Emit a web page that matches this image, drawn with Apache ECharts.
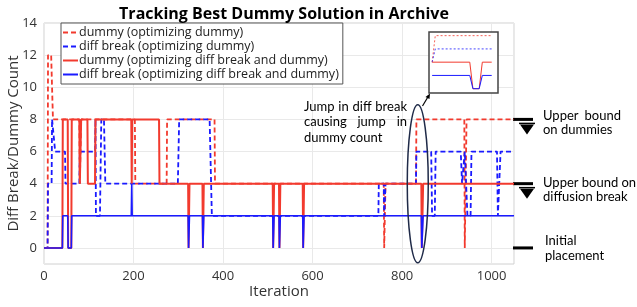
<!DOCTYPE html>
<html>
<head>
<meta charset="utf-8">
<script src="https://cdn.jsdelivr.net/npm/echarts@6/dist/echarts.min.js"></script>
<style>
html, body {margin: 0; padding: 0; background: #fff;}
#main {width: 637px; height: 307px;}
</style>
</head>
<body>
<div id="main"></div>
<script>
// legend names
var seriesNames = [
    'dummy (optimizing dummy)',
    'diff break (optimizing dummy)',
    'dummy (optimizing diff break and dummy)',
    'diff break (optimizing diff break and dummy)'
];
// [iteration, value]
var dummyOptDummy = [[0,0],[8,0],[9,12],[16,12],[18,10],[20,8],[79,8],[80,4],[82,4],[83,8],[203,8],[204,4],[274,4],[275,8],
    [381,8],[382,4],[759,4],[760,0],[762,0],[763,4],[831,4],[832,8],[939,8],[940,0],[943,0],[944,8],[1050,8]];
var diffOptDummy = [[0,0],[8,0],[9,4],[17,4],[18,8],[21,8],[25,6],[47,6],[48,4],[79,4],[80,6],[114,6],[115,8],[116,2],
    [125,2],[128,8],[134,8],[137,4],[299,4],[302,8],[370,8],[375,2],[747,2],[748,4],[759,4],[760,2],[762,2],[763,4],
    [831,4],[832,6],[865,6],[867,2],[873,2],[875,6],[931,6],[934,4],[938,4],[940,6],[944,6],[946,2],[953,2],[955,6],
    [1012,6],[1014,2],[1018,2],[1020,6],[1050,6]];
var dummyOptBoth = [[0,0],[41,0],[42,8],[53,8],[54,0],[61,0],[62,8],[79,8],[80,4],[82,4],[83,8],[97,8],[98,4],[114,4],
    [115,8],[195,8],[196,4],[197,8],[257,8],[258,4],[322,4],[323,0],[324,0],[325,4],[354,4],[355,0],[356,0],[357,4],
    [511,4],[512,0],[513,0],[514,4],[525,4],[526,0],[527,0],[528,4],[578,4],[579,0],[580,0],[581,4],
    [843,4],[844,0],[846,0],[847,4],[1050,4]];
var diffOptBoth = [[0,0],[41,0],[42,2],[53,2],[54,0],[61,0],[62,2],[195,2],[196,4],[197,2],[322,2],[323,0],[324,0],
    [325,2],[354,2],[355,0],[356,0],[357,2],[511,2],[512,0],[513,0],[514,2],[525,2],[526,0],[527,0],[528,2],
    [578,2],[579,0],[580,0],[581,2],[843,2],[844,0],[846,0],[847,2],[1050,2]];
var xTicks = [0, 200, 400, 600, 800, 1000];
var insetRange = [831, 850];

var red = '#f23a2e';
var blue = '#1a1aff';
var allData = [dummyOptDummy, diffOptDummy, dummyOptBoth, diffOptBoth];
var colors = [red, blue, red, blue];
var dashed = [true, true, false, false];
var widths = [1.8, 1.8, 2, 1.6];

// piece of a series inside [a, b], ends interpolated
var clip = function (arr, a, b) {
    var valAt = function (x) {
        for (var i = 0; i < arr.length - 1; i++) {
            var p = arr[i], q = arr[i + 1];
            if (x >= p[0] && x <= q[0]) {
                if (q[0] === p[0]) return p[1];
                return p[1] + (q[1] - p[1]) * (x - p[0]) / (q[0] - p[0]);
            }
        }
        return arr[arr.length - 1][1];
    };
    var out = [[a, valAt(a)]];
    arr.forEach(function (p) {
        if (p[0] > a && p[0] < b) out.push(p);
    });
    out.push([b, valAt(b)]);
    return out;
};

var series = [];
allData.forEach(function (d, i) {
    series.push({
        name: seriesNames[i],
        type: 'line',
        data: d,
        symbol: 'none',
        animation: false,
        lineStyle: {color: colors[i], width: widths[i], type: dashed[i] ? [5, 3] : 'solid'},
        itemStyle: {color: colors[i]},
        z: 2 + i
    });
});
allData.forEach(function (d, i) {
    series.push({
        name: 'inset' + i,
        type: 'line',
        xAxisIndex: 1,
        yAxisIndex: 1,
        data: clip(d, insetRange[0], insetRange[1]),
        symbol: 'none',
        animation: false,
        silent: true,
        lineStyle: {color: colors[i], width: 1, opacity: dashed[i] ? 0.8 : 1, type: dashed[i] ? [2, 2] : 'solid'},
        z: 20 + i
    });
});

var chart = echarts.init(document.getElementById('main'));
chart.setOption({
    backgroundColor: '#fff',
    animation: false,
    title: {
        text: 'Tracking Best Dummy Solution in Archive',
        left: 279,
        textAlign: 'center',
        top: 1,
        textStyle: {fontFamily: 'Open Sans', fontWeight: 'bold', fontSize: 16, color: '#000'}
    },
    legend: {
        data: seriesNames,
        orient: 'vertical',
        left: 61,
        top: 23,
        padding: [3, 4, 3, 1],
        itemGap: 1,
        itemWidth: 15,
        itemHeight: 10,
        backgroundColor: '#fff',
        borderColor: '#555',
        borderWidth: 1,
        borderRadius: 0,
        selectedMode: false,
        itemStyle: {opacity: 0},
        textStyle: {fontFamily: 'Open Sans', fontSize: 12.5, color: '#222', padding: [0, 0, 0, -4]}
    },
    grid: [
        {left: 44, right: 123, top: 23, bottom: 43, outerBoundsMode: 'none', containLabel: false,
            show: true, borderColor: '#d0d0d0', borderWidth: 1},
        {left: 429, top: 32, width: 69, height: 61, outerBoundsMode: 'none', containLabel: false,
            show: true, backgroundColor: '#fff', borderColor: '#444', borderWidth: 1.5, z: 10}
    ],
    xAxis: [
        {
            type: 'value', gridIndex: 0, min: 0, max: 1050, interval: 200,
            name: 'Iteration', nameLocation: 'middle', nameGap: 20, nameMoveOverlap: false,
            nameTextStyle: {fontFamily: 'Open Sans', fontSize: 15, color: '#333'},
            axisLine: {show: false},
            axisTick: {show: false},
            axisLabel: {
                fontFamily: 'Open Sans', fontSize: 13, color: '#333', margin: 6,
                formatter: function (v) { return xTicks.indexOf(v) >= 0 ? v : ''; }
            },
            splitLine: {lineStyle: {color: '#e9e9e9', width: 1}}
        },
        {type: 'value', gridIndex: 1, min: 830, max: 852, show: false, splitLine: {show: false}}
    ],
    yAxis: [
        {
            type: 'value', gridIndex: 0, min: -1, max: 14, interval: 1,
            name: 'Diff Break/Dummy Count', nameLocation: 'middle', nameGap: 23, nameMoveOverlap: false,
            nameTextStyle: {fontFamily: 'Open Sans', fontSize: 15, color: '#333'},
            axisLine: {show: false},
            axisTick: {show: false},
            axisLabel: {
                fontFamily: 'Open Sans', fontSize: 13, color: '#333', margin: 7,
                formatter: function (v) { return (v >= 0 && v % 2 === 0) ? v : ''; }
            },
            splitLine: {lineStyle: {color: ['rgba(0,0,0,0)', '#e9e9e9'], width: 1}}
        },
        {type: 'value', gridIndex: 1, min: -0.65, max: 8.55, show: false, splitLine: {show: false}}
    ],
    series: series
});

// annotations placed from data coordinates
var P = function (x, y) { return chart.convertToPixel({gridIndex: 0}, [x, y]); };
var gRight = P(1050, 0)[0];
var annoFont = '13px Lato';
var ctx = document.createElement('canvas').getContext('2d');
ctx.font = annoFont;

var textEl = function (str, x, y) {
    return {type: 'text', x: x, y: y, style: {text: str, font: annoFont, fill: '#000', verticalAlign: 'middle'}};
};
// spread words across [x0, x1]
var justify = function (str, x0, x1, y) {
    var words = str.split(' ');
    var total = 0;
    words.forEach(function (w) { total += ctx.measureText(w).width; });
    var gap = words.length > 1 ? (x1 - x0 - total) / (words.length - 1) : 0;
    var x = x0, out = [];
    words.forEach(function (w) {
        out.push(textEl(w, x, y));
        x += ctx.measureText(w).width + gap;
    });
    return out;
};

var els = [];
var bound = function (v, arrow) {
    var y = P(0, v)[1];
    els.push({type: 'line', shape: {x1: gRight - 1, y1: y, x2: gRight + 19, y2: y}, style: {stroke: '#000', lineWidth: 3}});
    if (arrow) {
        els.push({type: 'line', shape: {x1: gRight + 5, y1: y + 4, x2: gRight + 21, y2: y + 4}, style: {stroke: '#000', lineWidth: 1.5}});
        els.push({type: 'polygon', shape: {points: [[gRight + 6, y + 5], [gRight + 20, y + 5], [gRight + 13, y + 15]]}, style: {fill: '#000'}});
    }
};
bound(8, true);
bound(4, true);
bound(0, false);

var y8 = P(0, 8)[1], y4 = P(0, 4)[1], y0 = P(0, 0)[1];
els = els.concat(justify('Upper bound', gRight + 29, gRight + 107, y8 - 4));
els.push(textEl('on dummies', gRight + 29, y8 + 10));
els = els.concat(justify('Upper bound on', gRight + 29, gRight + 122, y4 - 1));
els.push(textEl('diffusion break', gRight + 29, y4 + 13));
els.push(textEl('Initial', gRight + 31, y0 - 7));
els.push(textEl('placement', gRight + 31, y0 + 8));

els = els.concat(justify('Jump in diff break', 304, 407, 107));
els = els.concat(justify('causing jump in', 304, 407, 122));
els.push(textEl('dummy count', 304, 137.5));

// ellipse round the jump
var c = P(835, 4);
els.push({type: 'ellipse', shape: {cx: c[0], cy: c[1], rx: 10.5, ry: 79}, style: {fill: 'none', stroke: '#1f2a48', lineWidth: 1.5}, z: 50});
// arrow to the inset
els.push({type: 'line', shape: {x1: 422.5, y1: 106, x2: 428.5, y2: 96}, style: {stroke: '#000', lineWidth: 1.2}, z: 50});
els.push({type: 'polygon', shape: {points: [[430, 93.5], [425.5, 97], [429.5, 99]]}, style: {fill: '#000'}, z: 50});

chart.setOption({graphic: {elements: els}});
</script>
</body>
</html>
